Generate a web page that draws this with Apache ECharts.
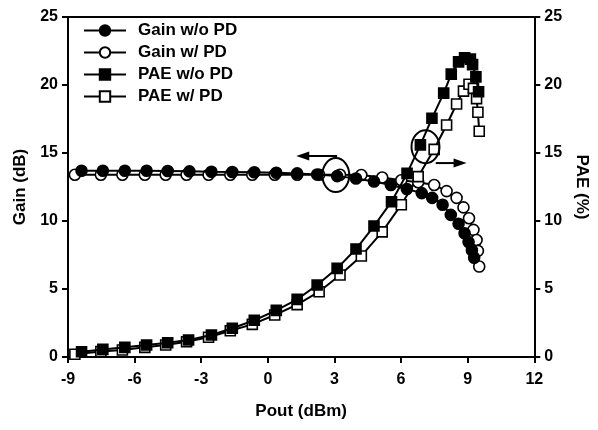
<!DOCTYPE html>
<html>
<head>
<meta charset="utf-8">
<script src="https://cdn.jsdelivr.net/npm/echarts@6/dist/echarts.min.js"></script>
<style>
html,body{margin:0;padding:0;background:#fff;}
#chart{width:598px;height:430px;}
</style>
</head>
<body>
<div id="chart"></div>
<script>
// ---- data ----
var xTicks = [-9, -6, -3, 0, 3, 6, 9, 12];
var yTicks = [0, 5, 10, 15, 20, 25];

var poutWo = [-8.39, -7.43, -6.44, -5.46, -4.51, -3.53, -2.54, -1.60, -0.61, 0.38, 1.32, 2.22, 3.12, 3.97, 4.78, 5.54, 6.26, 6.93, 7.40, 7.87, 8.24, 8.59, 8.86, 9.04, 9.19, 9.29];
var gainWo = [13.7, 13.7, 13.7, 13.7, 13.68, 13.65, 13.62, 13.6, 13.58, 13.55, 13.5, 13.42, 13.3, 13.12, 12.9, 12.65, 12.35, 12.05, 11.7, 11.2, 10.45, 9.8, 9.1, 8.45, 7.85, 7.3];

var poutPaeWo = [-8.39, -7.43, -6.44, -5.46, -4.51, -3.57, -2.54, -1.60, -0.61, 0.38, 1.32, 2.22, 3.12, 3.97, 4.78, 5.57, 6.27, 6.87, 7.39, 7.92, 8.26, 8.59, 8.86, 9.12, 9.22, 9.37, 9.49];
var paeWo = [0.39, 0.56, 0.71, 0.88, 1.05, 1.25, 1.62, 2.11, 2.7, 3.43, 4.24, 5.29, 6.52, 7.94, 9.63, 11.42, 13.5, 15.6, 17.55, 19.4, 20.8, 21.7, 22.0, 21.9, 21.5, 20.6, 19.5];

var poutW = [-8.69, -7.52, -6.55, -5.54, -4.60, -3.66, -2.67, -1.69, -0.70, 0.31, 1.32, 2.31, 3.25, 4.21, 5.15, 6.01, 6.77, 7.49, 8.05, 8.50, 8.81, 9.06, 9.26, 9.40, 9.46, 9.52];
var gainW = [13.4, 13.4, 13.4, 13.4, 13.4, 13.4, 13.4, 13.4, 13.4, 13.4, 13.4, 13.4, 13.4, 13.38, 13.2, 13.0, 12.85, 12.65, 12.2, 11.7, 11.0, 10.2, 9.35, 8.6, 7.8, 6.65];
var paeW = [0.2, 0.4, 0.52, 0.71, 0.88, 1.12, 1.45, 1.93, 2.4, 3.09, 3.85, 4.8, 6.03, 7.43, 9.2, 11.2, 13.26, 15.27, 17.06, 18.6, 19.55, 20.05, 19.75, 19.0, 18.0, 16.6];

var seriesNames = ['Gain w/o PD', 'Gain w/ PD', 'PAE w/o PD', 'PAE w/ PD'];

// annotation anchors in data units
var ellipseGain = [3.06, 13.38];
var ellipsePae = [7.10, 15.46];
var arrowGain = [[3.12, 14.78], [1.28, 14.78]];
var arrowPae = [[7.56, 14.26], [8.95, 14.26]];

function pairs(xs, ys) { return xs.map(function (x, i) { return [x, ys[i]]; }); }

var FONT = "'Liberation Sans', Arial, Helvetica, sans-serif";
var chart = echarts.init(document.getElementById('chart'), null, { renderer: 'canvas' });

function yAxisCfg(name, pos, rot, gap) {
  return {
    type: 'value', position: pos, min: 0, max: 25, interval: 5,
    name: name, nameLocation: 'middle', nameGap: gap, nameRotate: rot,
    nameTextStyle: { fontFamily: FONT, fontWeight: 'bold', fontSize: 17, color: '#000' },
    axisLine: { show: true, onZero: false, lineStyle: { color: '#000', width: 2 } },
    axisTick: { show: true, inside: false, length: 6, lineStyle: { color: '#000', width: 2 } },
    axisLabel: { fontFamily: FONT, fontWeight: 'bold', fontSize: 16, color: '#000', margin: 10,
      formatter: function (v) { return yTicks.indexOf(v) >= 0 ? String(v) : ''; } },
    splitLine: { show: false }
  };
}

function lineSeries(name, data, yIdx, symbol, filled, z) {
  return {
    name: name, type: 'line', yAxisIndex: yIdx, data: data, z: z,
    symbol: symbol, symbolSize: symbol === 'circle' ? 11 : 10, showAllSymbol: true,
    lineStyle: { color: '#000', width: 2 },
    itemStyle: { color: filled ? '#000' : '#fff', borderColor: '#000', borderWidth: 1.6 },
    emphasis: { disabled: true }
  };
}

chart.setOption({
  animation: false,
  backgroundColor: '#fff',
  grid: { left: 68, right: 62, top: 17, bottom: 73, containLabel: false },
  legend: {
    orient: 'vertical', left: 83, top: 22, padding: 0, itemWidth: 42, itemHeight: 13, itemGap: 5,
    data: seriesNames,
    textStyle: { fontFamily: FONT, fontWeight: 'bold', fontSize: 17, color: '#000', padding: [0, 0, 0, 7] }
  },
  xAxis: [{
    type: 'value', min: -9, max: 12, interval: 3,
    name: 'Pout (dBm)', nameLocation: 'middle', nameGap: 46,
    nameTextStyle: { fontFamily: FONT, fontWeight: 'bold', fontSize: 17, color: '#000' },
    axisLine: { show: true, onZero: false, lineStyle: { color: '#000', width: 2 } },
    axisTick: { show: true, inside: false, length: 6, lineStyle: { color: '#000', width: 2 } },
    axisLabel: { fontFamily: FONT, fontWeight: 'bold', fontSize: 16, color: '#000', margin: 15,
      formatter: function (v) { return xTicks.indexOf(v) >= 0 ? String(v) : ''; } },
    splitLine: { show: false }
  }, {
    type: 'value', position: 'top', min: -9, max: 12,
    axisLine: { show: true, onZero: false, lineStyle: { color: '#000', width: 2 } },
    axisTick: { show: false }, axisLabel: { show: false }, splitLine: { show: false }
  }],
  yAxis: [yAxisCfg('Gain (dB)', 'left', 90, 34), yAxisCfg('PAE (%)', 'right', -90, 32)],
  series: [
    lineSeries(seriesNames[0], pairs(poutWo, gainWo), 0, 'circle', true, 4),
    lineSeries(seriesNames[1], pairs(poutW, gainW), 0, 'circle', false, 3),
    lineSeries(seriesNames[2], pairs(poutPaeWo, paeWo), 1, 'rect', true, 4),
    lineSeries(seriesNames[3], pairs(poutW, paeW), 1, 'rect', false, 3)
  ]
});

function px(p, yIdx) { return chart.convertToPixel({ xAxisIndex: 0, yAxisIndex: yIdx }, p); }
function arrow(a, yIdx) {
  var s = px(a[0], yIdx), t = px(a[1], yIdx);
  var dir = t[0] > s[0] ? 1 : -1, L = 13, W = 4.5;
  return [
    { type: 'line', shape: { x1: s[0], y1: s[1], x2: t[0] - dir * L * 0.6, y2: t[1] }, style: { stroke: '#000', lineWidth: 2 }, z: 10 },
    { type: 'polygon', shape: { points: [[t[0], t[1]], [t[0] - dir * L, t[1] - W], [t[0] - dir * L, t[1] + W]] }, style: { fill: '#000' }, z: 10 }
  ];
}
var e1 = px(ellipseGain, 0), e2 = px(ellipsePae, 1);
var g = [
  { type: 'ellipse', shape: { cx: e1[0], cy: e1[1], rx: 13.5, ry: 17 }, style: { fill: 'none', stroke: '#000', lineWidth: 2 }, z: 10 },
  { type: 'ellipse', shape: { cx: e2[0], cy: e2[1], rx: 14, ry: 16.5 }, style: { fill: 'none', stroke: '#000', lineWidth: 2 }, z: 10 }
].concat(arrow(arrowGain, 0)).concat(arrow(arrowPae, 1));
chart.setOption({ graphic: g });
</script>
</body>
</html>
